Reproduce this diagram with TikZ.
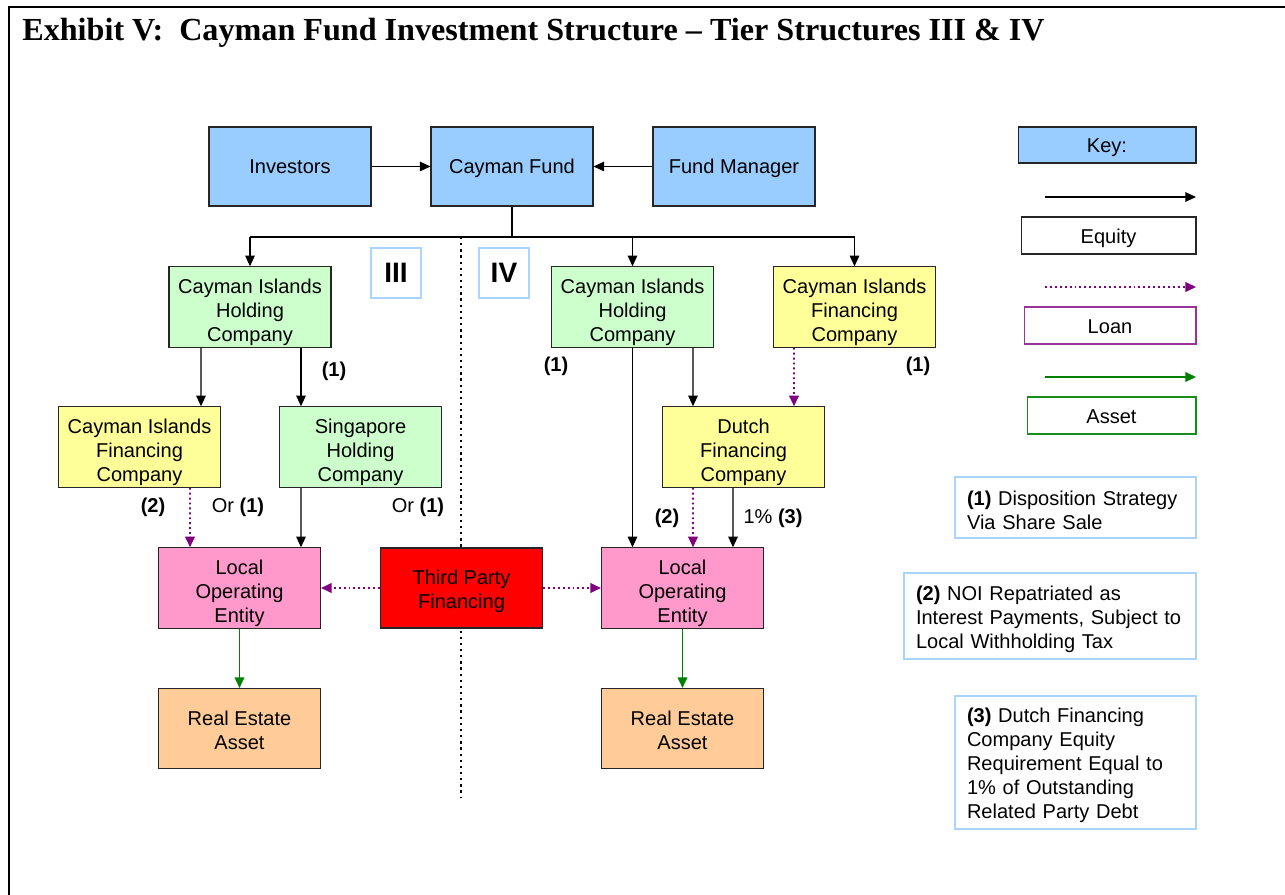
\documentclass[tikz,border=0pt]{standalone}
\usepackage{fontspec}
\setmainfont{Liberation Sans}
\newfontfamily\titlefont[Ligatures=TeX]{Liberation Serif}
\usetikzlibrary{positioning}
\usetikzlibrary{calc}
\usetikzlibrary{arrows.meta}
\definecolor{fundblue}{HTML}{99CCFF}
\definecolor{holdgreen}{HTML}{CCFFCC}
\definecolor{finyellow}{HTML}{FFFF99}
\definecolor{loepink}{HTML}{FF99CC}
\definecolor{tpred}{HTML}{FF0000}
\definecolor{reorange}{HTML}{FFCC99}
\definecolor{loanpurple}{HTML}{800080}
\definecolor{assetgreen}{HTML}{008000}
\definecolor{noteblue}{HTML}{A8D4FF}
\newcommand{\boxfont}{\fontsize{11.4}{13.7}\selectfont}
\tikzset{>={Triangle[length=6pt,width=5.4pt]}}
\tikzset{ent/.style={draw=black!85, line width=0.6pt, minimum width=3.24cm,
    minimum height=1.6cm, inner sep=1pt, align=center, font=\boxfont,
    execute at begin node={\rule{0pt}{12pt}},
    execute at end node={\rule[-4pt]{0pt}{4pt}}}}
\tikzset{ent2/.style={ent, execute at begin node={}, execute at end node={},
    text height=26pt, text depth=2.4pt}}
\tikzset{ent3/.style={ent, execute at begin node={}, execute at end node={},
    text height=41.4pt, text depth=2.4pt}}
\tikzset{keybox/.style={draw=black!85, line width=0.6pt, minimum height=0.74cm,
    inner sep=1pt, font=\boxfont, execute at begin node={\rule{0pt}{13pt}},
    execute at end node={\rule[-4pt]{0pt}{4pt}}}}
\tikzset{tier/.style={draw=noteblue, line width=0.9pt, minimum size=1cm,
    inner sep=0pt, font=\bfseries\fontsize{16}{18}\selectfont}}
\tikzset{note/.style={draw=noteblue, line width=0.9pt, align=left, inner xsep=0.24cm,
    inner ysep=2pt, font=\boxfont, execute at begin node={\rule{0pt}{11.6pt}}}}
\tikzset{tag/.style={inner sep=1pt, font=\boxfont}}
\tikzset{equity/.style={->, line width=0.6pt}}
\tikzset{loan/.style={->, draw=loanpurple, line width=1.1pt, dash pattern=on 1.1pt off 1.7pt}}
\tikzset{asset/.style={->, draw=assetgreen, line width=1pt}}

\begin{document}
\begin{tikzpicture}[x=0.02cm, y=-0.02cm]
\useasboundingbox (0,0) rectangle (1285,895);

% frame and title
\draw[line width=1.7pt] (9,895) -- (9,7) -- (1285,7);
\node[anchor=base west, inner sep=0pt, font=\titlefont\bfseries\fontsize{18.3}{22}\selectfont]
  (title) at (22,41) {Exhibit V:\ \ Cayman Fund Investment Structure -- Tier Structures III \& IV};

% tier separator
\draw[line width=1.3pt, dash pattern=on 1.3pt off 2.2pt] (461,237) -- (461,797);

% top row
\node[ent, fill=fundblue, minimum height=1.58cm] (inv) at (290,166.5) {Investors};
\node[ent, fill=fundblue, minimum height=1.58cm] (fund) at (512,166.5) {Cayman Fund};
\node[ent, fill=fundblue, minimum height=1.58cm] (mgr) at (734,166.5) {Fund Manager};

% holding tier
\node[ent3, fill=holdgreen] (cihcL) at (250,307) {Cayman Islands\\Holding\\Company};
\node[ent3, fill=holdgreen] (cihcR) at (632.5,307) {Cayman Islands\\Holding\\Company};
\node[ent3, fill=finyellow] (cifcR) at (854.5,307) {Cayman Islands\\Financing\\Company};

\node[tier] (t3) at (396,273) {III};
\node[tier] (t4) at (504,273) {IV};

% intermediate tier
\node[ent3, fill=finyellow] (cifcL) at (139.5,447) {Cayman Islands\\Financing\\Company};
\node[ent3, fill=holdgreen] (singH) at (360.5,447) {Singapore\\Holding\\Company};
\node[ent3, fill=finyellow] (dutch) at (743.5,447) {Dutch\\Financing\\Company};

% operating tier
\node[ent3, fill=loepink] (loeL) at (239.5,588) {Local\\Operating\\Entity};
\node[ent2, fill=tpred] (tpf) at (461.5,588) {Third Party\\Financing};
\node[ent3, fill=loepink] (loeR) at (682.5,588) {Local\\Operating\\Entity};

\node[ent2, fill=reorange] (reaL) at (239.5,728.5) {Real Estate\\Asset};
\node[ent2, fill=reorange] (reaR) at (682.5,728.5) {Real Estate\\Asset};

% connectors
\draw[equity] (inv) -- (fund);
\draw[equity] (mgr) -- (fund);
\coordinate (bus) at (512,237);
\draw[line width=0.6pt] (fund.south) -- (bus);
\draw[line width=0.6pt] (bus -| cihcL.north) -- (bus -| cifcR.north);
\foreach \n in {cihcL,cihcR,cifcR}
  \draw[equity] (bus -| \n.north) -- (\n.north);

\draw[equity] ($(cihcL.south)+(-49,0)$) -- ($(cifcL.north)+(61.5,0)$);
\draw[equity] ($(cihcL.south)+(51,0)$) -- ($(singH.north)+(-59.5,0)$);
\draw[loan] ($(cifcL.south)+(50.5,0)$) -- ($(loeL.north)+(-49.5,0)$);
\draw[equity] ($(singH.south)+(-59.5,0)$) -- ($(loeL.north)+(61.5,0)$);

\draw[equity] (cihcR.south) -- ($(loeR.north)+(-50,0)$);
\draw[equity] ($(cihcR.south)+(60.5,0)$) -- ($(dutch.north)+(-50.5,0)$);
\draw[loan] ($(cifcR.south)+(-60.5,0)$) -- ($(dutch.north)+(50.5,0)$);
\draw[loan] ($(dutch.south)+(-50.5,0)$) -- ($(loeR.north)+(10.5,0)$);
\draw[equity] ($(dutch.south)+(-10.5,0)$) -- ($(loeR.north)+(50.5,0)$);

\draw[loan] (tpf.west) -- (loeL.east);
\draw[loan] (tpf.east) -- (loeR.west);

\draw[asset] (loeL) -- (reaL);
\draw[asset] (loeR) -- (reaR);

% labels
\node[tag] (l1a) at (334,371) {\textbf{(1)}};
\node[tag] (l1b) at (556,366) {\textbf{(1)}};
\node[tag] (l1c) at (918,366) {\textbf{(1)}};
\node[tag] (l2a) at (153,507) {\textbf{(2)}};
\node[tag] (or1a) at (238,507) {Or \textbf{(1)}};
\node[tag] (or1b) at (418,507) {Or \textbf{(1)}};
\node[tag] (l2b) at (667,518) {\textbf{(2)}};
\node[tag] (l3) at (773,518) {1\% \textbf{(3)}};

% key
\node[keybox, fill=fundblue, minimum width=3.56cm, minimum height=0.72cm] (key) at (1107,145) {Key:};
\coordinate (eqa) at (1045,197);
\coordinate (eqb) at (1196,197);
\draw[equity] (eqa) -- (eqb);
\node[keybox, minimum width=3.5cm] (keyeq) at (1108.5,235.5) {Equity};
\coordinate (loa) at (1045,287);
\coordinate (lob) at (1196,287);
\draw[loan] (loa) -- (lob);
\node[keybox, draw=loanpurple!80, minimum width=3.44cm] (keyloan) at (1110,325.5) {Loan};
\coordinate (asa) at (1045,377);
\coordinate (asb) at (1196,377);
\draw[asset] (asa) -- (asb);
\node[keybox, draw=assetgreen!90, minimum width=3.38cm] (keyasset) at (1111.5,415.5) {Asset};

% notes
\node[note, text width=4.34cm, minimum height=1.22cm] (n1) at (1075.5,507.5)
  {\textbf{(1)} Disposition Strategy\\Via Share Sale};
\node[note, text width=5.36cm, minimum height=1.72cm] (n2) at (1050,616)
  {\textbf{(2)} NOI Repatriated as\\Interest Payments, Subject to\\Local Withholding Tax};
\node[note, text width=4.34cm, minimum height=2.66cm] (n3) at (1075.5,762.5)
  {\textbf{(3)} Dutch Financing\\Company Equity\\Requirement Equal to\\1\% of Outstanding\\Related Party Debt};
\end{tikzpicture}
\end{document}
